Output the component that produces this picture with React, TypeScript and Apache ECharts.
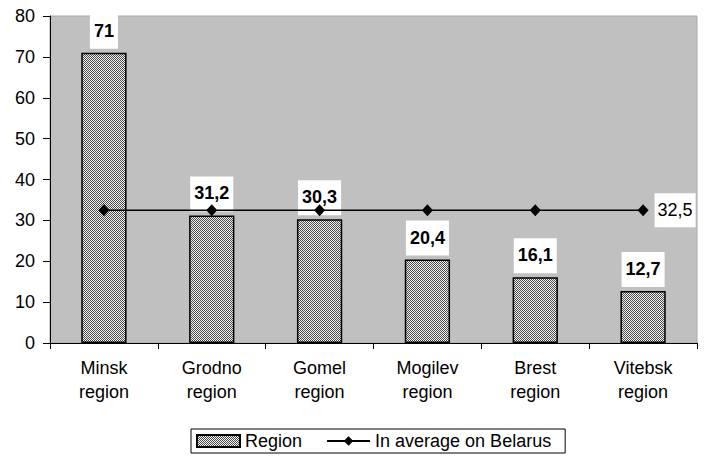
import React, { useEffect, useRef } from "react";
import * as echarts from "echarts";

const categories = ["Minsk\nregion", "Grodno\nregion", "Gomel\nregion", "Mogilev\nregion", "Brest\nregion", "Vitebsk\nregion"];
const regionValues = [71, 31.2, 30.3, 20.4, 16.1, 12.7];
const averageValues = [32.5, 32.5, 32.5, 32.5, 32.5, 32.5];
const yTicks = { min: 0, max: 80, interval: 10 };

const fmt = (v: number) => String(v).replace(".", ",");

function makePattern(): any {
  const c = document.createElement("canvas");
  c.width = 2;
  c.height = 2;
  const ctx = c.getContext("2d")!;
  ctx.fillStyle = "#f4f4f4";
  ctx.fillRect(0, 0, 2, 2);
  ctx.fillStyle = "#4a4a4a";
  ctx.fillRect(0, 0, 1, 1);
  ctx.fillRect(1, 1, 1, 1);
  return { image: c.toDataURL(), repeat: "repeat" };
}

export default function App() {
  const ref = useRef<HTMLDivElement>(null);
  useEffect(() => {
    const chart = echarts.init(ref.current!, null, { renderer: "svg" });
    const font = "Liberation Sans, Arial, sans-serif";
    const pattern = makePattern();
    const lastIdx = averageValues.length - 1;
    chart.setOption({
      animation: false,
      textStyle: { fontFamily: font },
      grid: { left: 50, right: 14, top: 16, bottom: 117, show: true, backgroundColor: "#C0C0C0", borderColor: "#A8A8A8", borderWidth: 1 },
      xAxis: {
        type: "category",
        data: categories,
        axisLine: { lineStyle: { color: "#000", width: 1 } },
        axisTick: { show: true, alignWithLabel: false, length: 6, lineStyle: { color: "#000" } },
        axisLabel: { color: "#000", fontSize: 18, lineHeight: 24, margin: 13, fontFamily: font },
      },
      yAxis: {
        type: "value",
        min: yTicks.min,
        max: yTicks.max,
        interval: yTicks.interval,
        axisLine: { show: true, lineStyle: { color: "#000", width: 1 } },
        axisTick: { show: true, inside: false, length: 7, lineStyle: { color: "#000" } },
        splitLine: { show: false },
        axisLabel: { color: "#000", fontSize: 18, margin: 15, fontFamily: font },
      },
      legend: {
        top: 429,
        left: 191,
        itemWidth: 43,
        itemHeight: 12,
        itemGap: 24,
        borderColor: "#000",
        borderWidth: 1,
        padding: [3, 14, 3, 5],
        textStyle: { color: "#000", fontSize: 18, fontFamily: font },
        data: [
          { name: "Region", icon: "rect" },
          { name: "In average on Belarus" },
        ],
      },
      series: [
        {
          name: "Region",
          type: "bar",
          data: regionValues,
          barWidth: "42%",
          itemStyle: { color: pattern, borderColor: "#000", borderWidth: 1.5 },
          label: {
            show: true,
            position: "top",
            distance: 4,
            formatter: (p: any) => fmt(p.value),
            color: "#000",
            fontSize: 18,
            fontWeight: "bold",
            fontFamily: font,
            backgroundColor: "#fff",
            padding: [8, 4, 9, 4],
          },
        },
        {
          name: "In average on Belarus",
          type: "line",
          data: averageValues.map((v, i) =>
            i === lastIdx
              ? {
                  value: v,
                  label: {
                    show: true,
                    position: "right",
                    distance: 6,
                    formatter: (p: any) => fmt(p.value),
                    color: "#000",
                    fontSize: 18,
                    fontFamily: font,
                    backgroundColor: "#fff",
                    padding: [8, 3, 8, 3],
                  },
                }
              : v
          ),
          symbol: "diamond",
          symbolSize: [11, 12],
          lineStyle: { color: "#000", width: 1.5 },
          itemStyle: { color: "#000" },
          label: { show: false },
          z: 5,
        },
      ],
    });
    return () => chart.dispose();
  }, []);
  return <div ref={ref} style={{ width: 711, height: 460, position: "absolute", left: 0, top: 0 }} />;
}
